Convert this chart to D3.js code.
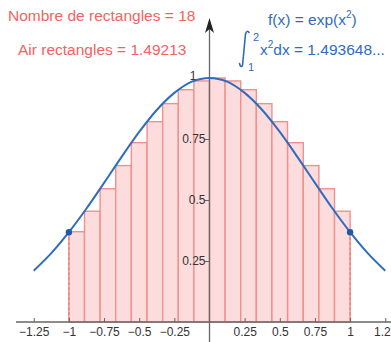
<!DOCTYPE html>
<html>
<head>
<meta charset="utf-8">
<script src="https://cdn.jsdelivr.net/npm/d3@7"></script>
<style>
  body { margin: 0; background: #fff; }
  svg { display: block; font-family: "Liberation Sans", Arial, sans-serif; }
</style>
</head>
<body>
<svg id="chart" width="391" height="342"></svg>
<script>
// rectangle left edges and heights (18 rectangles on [-1, 1])
const rectX = [-1, -0.889, -0.778, -0.667, -0.556, -0.444, -0.333, -0.222, -0.111,
  0, 0.111, 0.222, 0.333, 0.444, 0.556, 0.667, 0.778, 0.889];
const rectH = [0.37, 0.454, 0.546, 0.641, 0.735, 0.821, 0.895, 0.952, 0.988,
  1, 0.988, 0.952, 0.895, 0.821, 0.735, 0.641, 0.546, 0.454];
const rectW = 0.111;

// curve samples
const curveX = [-1.25, -1.125, -1, -0.875, -0.75, -0.625, -0.5, -0.375, -0.25, -0.125, 0,
  0.125, 0.25, 0.375, 0.5, 0.625, 0.75, 0.875, 1, 1.125, 1.25];
const curveY = [0.21, 0.282, 0.368, 0.465, 0.57, 0.677, 0.779, 0.869, 0.939, 0.985, 1,
  0.985, 0.939, 0.869, 0.779, 0.677, 0.57, 0.465, 0.368, 0.282, 0.21];

const pointsX = [-1, 1];
const pointsY = [0.368, 0.368];

const xTicks = [-1.25, -1, -0.75, -0.5, -0.25, 0.25, 0.5, 0.75, 1, 1.25];
const yTicks = [0.25, 0.5, 0.75, 1];

const svg = d3.select('#chart');
const x = d3.scaleLinear().domain([-1, 1]).range([68.9, 350.1]);
const y = d3.scaleLinear().domain([0, 1]).range([322, 78]);

const red = '#f26461';
const blue = '#2f6cbf';

// rectangles
svg.append('g').selectAll('rect')
  .data(rectX)
  .join('rect')
  .attr('x', (d) => x(d))
  .attr('y', (d, i) => y(rectH[i]))
  .attr('width', x(rectW) - x(0))
  .attr('height', (d, i) => y(0) - y(rectH[i]))
  .attr('fill', '#fcdcdc')
  .attr('stroke', '#f0918b')
  .attr('stroke-width', 1.4);

// dashed bounds at x = -1 and x = 1
svg.append('g').selectAll('line')
  .data(pointsX)
  .join('line')
  .attr('x1', (d) => x(d))
  .attr('x2', (d) => x(d))
  .attr('y1', (d, i) => y(pointsY[i]))
  .attr('y2', y(0))
  .attr('stroke', '#e8807a')
  .attr('stroke-width', 1.4)
  .attr('stroke-dasharray', '3,2');

// y axis line with arrow
svg.append('line')
  .attr('x1', x(0)).attr('x2', x(0))
  .attr('y1', 342).attr('y2', 28)
  .attr('stroke', '#666').attr('stroke-width', 1.3);
svg.append('path')
  .attr('d', `M${x(0)},18 L${x(0) - 4.5},33 L${x(0)},29 L${x(0) + 4.5},33 Z`)
  .attr('fill', '#222');

// y ticks
const yAxis = svg.append('g').attr('transform', `translate(${x(0)},0)`)
  .call(d3.axisLeft(y).tickValues(yTicks).tickSize(5).tickFormat((d) => d3.format('')(d)));
yAxis.select('.domain').remove();
yAxis.selectAll('.tick line').attr('stroke', '#666');
yAxis.selectAll('.tick text')
  .attr('fill', '#333').attr('font-size', 12).attr('x', -4)
  .style('font-family', '"Liberation Sans", Arial, sans-serif');
yAxis.selectAll('.tick').filter((d) => d === 1).select('text').attr('x', -13).attr('dy', '0.1em');
yAxis.selectAll('.tick').filter((d) => d === 1).select('line').remove();

// curve
svg.append('path')
  .datum(curveX.map((d, i) => [d, curveY[i]]))
  .attr('fill', 'none')
  .attr('stroke', blue)
  .attr('stroke-width', 2)
  .attr('d', d3.line().x((d) => x(d[0])).y((d) => y(d[1])).curve(d3.curveCatmullRom));

svg.append('g').selectAll('circle')
  .data(pointsX)
  .join('circle')
  .attr('cx', (d) => x(d))
  .attr('cy', (d, i) => y(pointsY[i]))
  .attr('r', 3.2)
  .attr('fill', '#1f5aa8');

// x axis
svg.append('line')
  .attr('x1', 16).attr('x2', 391)
  .attr('y1', y(0)).attr('y2', y(0))
  .attr('stroke', '#666').attr('stroke-width', 1.3);
const xAxis = svg.append('g').attr('transform', `translate(0,${y(0)})`)
  .call(d3.axisTop(x).tickValues(xTicks).tickSize(4).tickFormat((d) => d3.format('')(d)));
xAxis.select('.domain').remove();
xAxis.selectAll('.tick line').attr('stroke', '#666');
xAxis.selectAll('.tick text')
  .attr('fill', '#333').attr('font-size', 12).attr('y', 14).attr('dy', 0)
  .style('font-family', '"Liberation Sans", Arial, sans-serif');

// annotations
svg.append('text').attr('x', 8).attr('y', 21)
  .attr('fill', red).attr('font-size', 15.5)
  .text('Nombre de rectangles = 18');
svg.append('text').attr('x', 18).attr('y', 55)
  .attr('fill', red).attr('font-size', 15.5)
  .text('Air rectangles = 1.49213');

const fx = svg.append('text').attr('x', 268).attr('y', 25)
  .attr('fill', blue).attr('font-size', 15.5);
fx.append('tspan').text('f(x) = exp(x');
fx.append('tspan').attr('font-size', 10).attr('dy', -7).text('2');
fx.append('tspan').attr('dy', 7).text(')');

// integral sign drawn as a thin stroke
svg.append('path')
  .attr('d', 'M239.5,63.5 Q240.5,68 242.5,65.5 L245.5,34 Q247,29.5 249,32.5')
  .attr('fill', 'none')
  .attr('stroke', blue)
  .attr('stroke-width', 1.6)
  .attr('stroke-linecap', 'round');
svg.append('text').attr('x', 253).attr('y', 41)
  .attr('fill', blue).attr('font-size', 11).text('2');
svg.append('text').attr('x', 248).attr('y', 71)
  .attr('fill', blue).attr('font-size', 11).text('1');
const integ = svg.append('text').attr('x', 260).attr('y', 55)
  .attr('fill', blue).attr('font-size', 15.5);
integ.append('tspan').text('x');
integ.append('tspan').attr('font-size', 10).attr('dy', -7).text('2');
integ.append('tspan').attr('dy', 7).text('dx = 1.493648...');
</script>
</body>
</html>
